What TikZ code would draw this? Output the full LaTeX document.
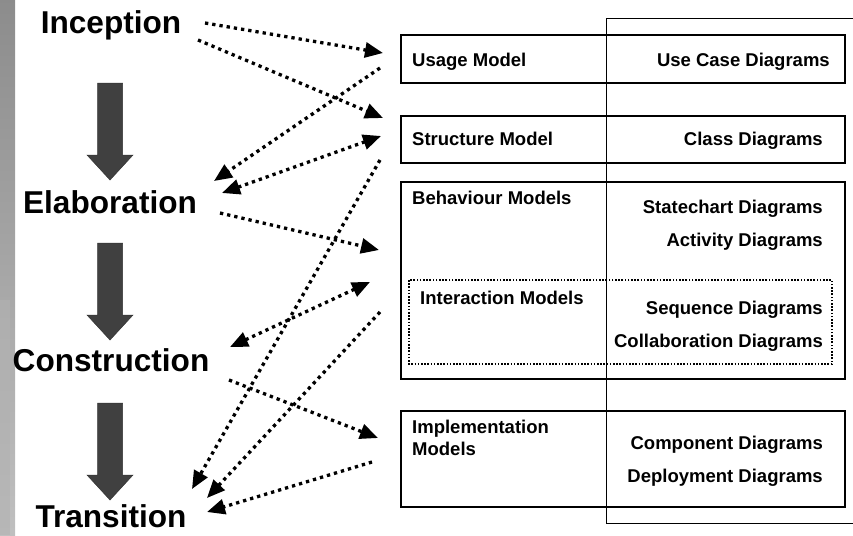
\documentclass[tikz,border=0pt]{standalone}
\usepackage{fontspec}
\setmainfont{Liberation Sans}
\usetikzlibrary{arrows.meta}
\begin{document}
\begin{tikzpicture}[x=1pt,y=-1pt,
  phase/.style={font=\fontsize{31.6}{36}\selectfont\bfseries, anchor=base, inner sep=0pt},
  lbl/.style={font=\fontsize{18.5}{22}\selectfont\bfseries, anchor=base west, inner sep=0pt},
  rlbl/.style={font=\fontsize{18.5}{22}\selectfont\bfseries, anchor=base east, inner sep=0pt},
  modelbox/.style={draw=black, line width=2.6pt},
  interbox/.style={draw=black, line width=1.6pt, dash pattern=on 1.6pt off 1.6pt},
  flow/.style={draw=black, line width=3.3pt, dash pattern=on 3.3pt off 4pt,
    -{Triangle[length=18pt,width=15pt]}},
  flow2/.style={flow, {Triangle[length=18pt,width=15pt]}-{Triangle[length=18pt,width=15pt]}},
  bigarrow/.style={fill=black!75, draw=black!80, line width=0.5pt}
]
\useasboundingbox (0,0) rectangle (853,535);
% textured strip on the left
\shade[top color=black!45, bottom color=black!25] (0,0) rectangle (15,535);
\fill[black!30, opacity=0.6] (0,300) rectangle (10,535);

% thin outer frame
\draw[line width=1pt] (853,19) -- (606,19) -- (606,523) -- (853,523);

% model boxes
\draw[modelbox] (401,35) rectangle (845,83);
\draw[modelbox] (401,116) rectangle (845,163);
\draw[modelbox] (401,182) rectangle (845,379);
\draw[interbox] (409,280) rectangle (832,364);
\draw[modelbox] (401,411) rectangle (845,507);

\node[lbl] (usage) at (412,66.5) {Usage Model};
\node[rlbl] (usecase) at (830,66.5) {Use Case Diagrams};
\node[lbl] (structure) at (412,145.5) {Structure Model};
\node[rlbl] (classd) at (823,145.5) {Class Diagrams};
\node[lbl] (behaviour) at (412,204) {Behaviour Models};
\node[rlbl] (statechart) at (823,213.5) {Statechart Diagrams};
\node[rlbl] (activity) at (823,246) {Activity Diagrams};
\node[lbl] (interaction) at (420,304) {Interaction Models};
\node[rlbl] (sequence) at (823,314) {Sequence Diagrams};
\node[rlbl] (collab) at (823,347) {Collaboration Diagrams};
\node[lbl] (impl1) at (412,433) {Implementation};
\node[lbl] (impl2) at (412,455) {Models};
\node[rlbl] (component) at (823,449) {Component Diagrams};
\node[rlbl] (deployment) at (823,482) {Deployment Diagrams};

% phases
\node[phase] (inception) at (111,34) {Inception};
\node[phase] (elaboration) at (110,213) {Elaboration};
\node[phase] (construction) at (111,371) {Construction};
\node[phase] (transition) at (111,527) {Transition};

% big down arrows
\foreach \t in {83,243,403}{
  \draw[bigarrow] (97.5,\t) -- (122.5,\t) -- (122.5,\t+72) -- (133,\t+72)
    -- (110,\t+97) -- (87,\t+72) -- (97.5,\t+72) -- cycle;
}

% connector end points
\coordinate (i1) at (205,23);   \coordinate (u1) at (383,53);
\coordinate (i2) at (198,40);   \coordinate (s1) at (383,118);
\coordinate (u2) at (380,68);   \coordinate (e1) at (214,181);
\coordinate (e2) at (222,193);  \coordinate (s2) at (381,136);
\coordinate (e3) at (220,213);  \coordinate (b1) at (379,250);
\coordinate (s3) at (380,160);  \coordinate (t1) at (192,489);
\coordinate (b2) at (370,282);  \coordinate (c1) at (230,347);
\coordinate (b3) at (380,312);  \coordinate (t2) at (207,498);
\coordinate (c2) at (229,380);  \coordinate (m1) at (378,438);
\coordinate (m2) at (372,462);  \coordinate (t3) at (207,512);

\draw[flow] (i1) -- (u1);
\draw[flow] (i2) -- (s1);
\draw[flow] (u2) -- (e1);
\draw[flow2] (e2) -- (s2);
\draw[flow] (e3) -- (b1);
\draw[flow] (s3) -- (t1);
\draw[flow2] (c1) -- (b2);
\draw[flow] (b3) -- (t2);
\draw[flow] (c2) -- (m1);
\draw[flow] (m2) -- (t3);
\end{tikzpicture}
\end{document}
